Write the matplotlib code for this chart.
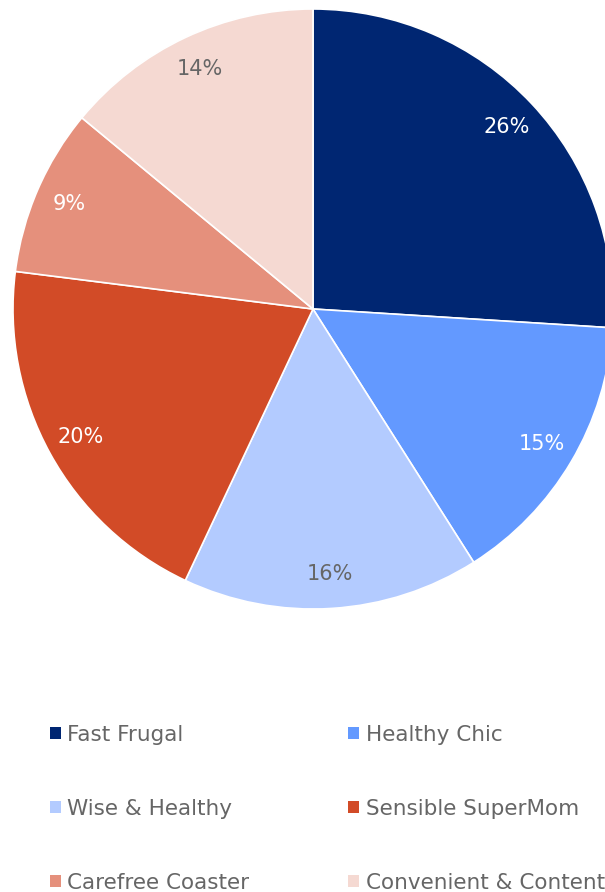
import matplotlib.pyplot as plt

# segment shares (%)
labels = ["Fast Frugal", "Healthy Chic", "Wise & Healthy",
          "Sensible SuperMom", "Carefree Coaster", "Convenient & Content"]
shares = [26, 15, 16, 20, 9, 14]
colors = ["#002672", "#6399FF", "#B3CBFF", "#D24B27", "#E5907C", "#F5D9D2"]
text_colors = ["white", "white", "#666666", "white", "white", "#666666"]

W, H = 605, 892
fig = plt.figure(figsize=(W / 100, H / 100), dpi=100)
plt.rcParams['font.family'] = ['DejaVu Sans']

# pie centred at (313, 309) px, radius 300 px
ax = fig.add_axes([13 / W, (H - 609) / H, 600 / W, 600 / H])
wedges, texts, autotexts = ax.pie(
    shares, colors=colors, startangle=90, counterclock=False,
    autopct='%d%%', pctdistance=0.885,
    wedgeprops=dict(edgecolor='white', linewidth=1.2),
    textprops=dict(fontsize=15))
for t, c in zip(autotexts, text_colors):
    t.set_color(c)
ax.set_xlim(-1, 1)
ax.set_ylim(-1, 1)
ax.set_aspect('equal')

# legend: two columns, filled row by row
order = [0, 2, 4, 1, 3, 5]
leg = fig.legend([wedges[i] for i in order], [labels[i] for i in order],
                 ncol=2, loc='upper left', bbox_to_anchor=(50 / W, 1 - 725 / H),
                 frameon=False, fontsize=15.5, handlelength=0.5, handleheight=0.5,
                 handletextpad=0.3, columnspacing=4.6, labelspacing=2.5,
                 borderpad=0, borderaxespad=0)
for t in leg.get_texts():
    t.set_color('#666666')
for h in leg.legend_handles:
    h.set_edgecolor('none')

fig.savefig("out.png", dpi=100)
